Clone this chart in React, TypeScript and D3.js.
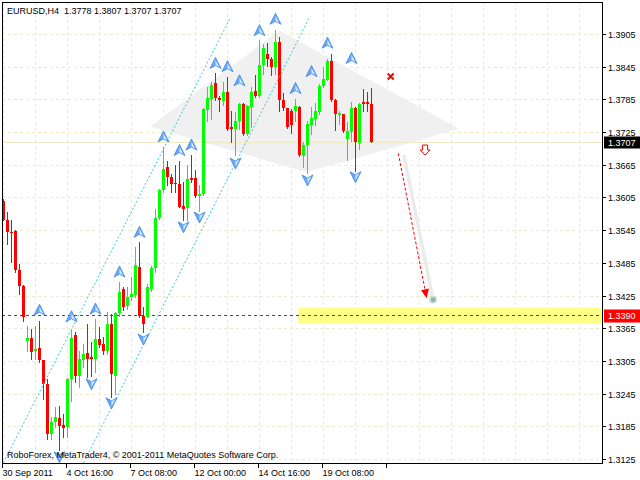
import React from 'react';
import * as d3 from 'd3';

const symbol = 'EURUSD,H4';
const copyright = 'RoboForex, MetaTrader4, © 2001-2011 MetaQuotes Software Corp.';

const opens = [
  1.3600, 1.3565, 1.3542, 1.3545, 1.3473, 1.3444, 1.3342, 1.3348, 1.3325, 1.3329,
  1.3307, 1.3263, 1.3172, 1.3194, 1.3201, 1.3189, 1.3185, 1.3273, 1.3353, 1.3279,
  1.3307, 1.3321, 1.3313, 1.3310, 1.3347, 1.3337, 1.3325, 1.3374, 1.3279, 1.3393,
  1.3438, 1.3406, 1.3423, 1.3426, 1.3479, 1.3389, 1.3387, 1.3438, 1.3477, 1.3569,
  1.3619, 1.3662, 1.3643, 1.3632, 1.3631, 1.3591, 1.3587, 1.3641, 1.3641, 1.3608,
  1.3613, 1.3767, 1.3787, 1.3816, 1.3789, 1.3783, 1.3800, 1.3736, 1.3732, 1.3746,
  1.3778, 1.3723, 1.3772, 1.3802, 1.3793, 1.3849, 1.3870, 1.3860, 1.3845, 1.3891,
  1.3784, 1.3770, 1.3765, 1.3765, 1.3772, 1.3682, 1.3703, 1.3738, 1.3750, 1.3763,
  1.3811, 1.3822, 1.3857, 1.3785, 1.3758, 1.3759, 1.3713, 1.3726, 1.3770, 1.3706,
  1.3781, 1.3781, 1.3778,
];
const highs = [
  1.3604, 1.3579, 1.3564, 1.3547, 1.3484, 1.3446, 1.3370, 1.3364, 1.3370, 1.3380,
  1.3308, 1.3272, 1.3203, 1.3221, 1.3224, 1.3209, 1.3275, 1.3362, 1.3359, 1.3325,
  1.3337, 1.3374, 1.3340, 1.3383, 1.3368, 1.3350, 1.3396, 1.3392, 1.3396, 1.3451,
  1.3441, 1.3441, 1.3460, 1.3515, 1.3524, 1.3405, 1.3447, 1.3481, 1.3585, 1.3622,
  1.3698, 1.3672, 1.3649, 1.3665, 1.3672, 1.3634, 1.3665, 1.3684, 1.3657, 1.3628,
  1.3771, 1.3808, 1.3818, 1.3834, 1.3793, 1.3818, 1.3827, 1.3765, 1.3762, 1.3779,
  1.3779, 1.3775, 1.3808, 1.3830, 1.3894, 1.3888, 1.3890, 1.3863, 1.3914, 1.3900,
  1.3797, 1.3771, 1.3768, 1.3787, 1.3773, 1.3707, 1.3747, 1.3772, 1.3779, 1.3814,
  1.3845, 1.3860, 1.3869, 1.3787, 1.3765, 1.3760, 1.3744, 1.3781, 1.3772, 1.3779,
  1.3805, 1.3799, 1.3807,
];
const lows = [
  1.3564, 1.3521, 1.3487, 1.3469, 1.3429, 1.3380, 1.3325, 1.3310, 1.3310, 1.3304,
  1.3236, 1.3163, 1.3163, 1.3184, 1.3142, 1.3166, 1.3166, 1.3233, 1.3267, 1.3258,
  1.3295, 1.3276, 1.3279, 1.3285, 1.3332, 1.3319, 1.3319, 1.3239, 1.3246, 1.3389,
  1.3400, 1.3402, 1.3417, 1.3423, 1.3386, 1.3359, 1.3386, 1.3435, 1.3470, 1.3567,
  1.3616, 1.3628, 1.3616, 1.3616, 1.3588, 1.3564, 1.3565, 1.3634, 1.3606, 1.3581,
  1.3610, 1.3747, 1.3750, 1.3784, 1.3765, 1.3775, 1.3730, 1.3707, 1.3683, 1.3732,
  1.3721, 1.3721, 1.3735, 1.3790, 1.3790, 1.3833, 1.3848, 1.3830, 1.3833, 1.3765,
  1.3767, 1.3734, 1.3724, 1.3746, 1.3682, 1.3662, 1.3651, 1.3723, 1.3738, 1.3759,
  1.3808, 1.3821, 1.3783, 1.3729, 1.3741, 1.3726, 1.3674, 1.3710, 1.3654, 1.3695,
  1.3765, 1.3765, 1.3707,
];
const closes = [
  1.3565, 1.3542, 1.3541, 1.3472, 1.3444, 1.3386, 1.3348, 1.3323, 1.3328, 1.3307,
  1.3264, 1.3172, 1.3194, 1.3203, 1.3186, 1.3183, 1.3273, 1.3348, 1.3279, 1.3310,
  1.3319, 1.3309, 1.3309, 1.3347, 1.3336, 1.3325, 1.3374, 1.3282, 1.3394, 1.3433,
  1.3405, 1.3423, 1.3428, 1.3482, 1.3389, 1.3374, 1.3441, 1.3477, 1.3569, 1.3619,
  1.3658, 1.3643, 1.3631, 1.3631, 1.3589, 1.3585, 1.3639, 1.3638, 1.3608, 1.3613,
  1.3769, 1.3789, 1.3813, 1.3789, 1.3784, 1.3800, 1.3732, 1.3731, 1.3747, 1.3778,
  1.3723, 1.3773, 1.3800, 1.3793, 1.3849, 1.3881, 1.3860, 1.3845, 1.3892, 1.3784,
  1.3770, 1.3735, 1.3738, 1.3773, 1.3683, 1.3703, 1.3740, 1.3752, 1.3764, 1.3811,
  1.3824, 1.3857, 1.3784, 1.3759, 1.3761, 1.3728, 1.3727, 1.3770, 1.3707, 1.3778,
  1.3778, 1.3778, 1.3707,
];

const priceTicks = [1.3905, 1.3845, 1.3785, 1.3725, 1.3665, 1.3605, 1.3545, 1.3485, 1.3425, 1.3365, 1.3305, 1.3245, 1.3185, 1.3125];
const timeLabels = ['30 Sep 2011', '4 Oct 16:00', '7 Oct 08:00', '12 Oct 00:00', '14 Oct 16:00', '19 Oct 08:00'];
const timeLabelBars = [0, 16, 32, 48, 64, 80];

const upFractalBars = [9, 17, 23, 29, 34, 40, 44, 47, 53, 56, 59, 64, 68, 73, 77, 81, 87];
const upFractalPrices = [1.3399, 1.3387, 1.3401, 1.3469, 1.3542, 1.3717, 1.3692, 1.3702, 1.3852, 1.3846, 1.3820, 1.3912, 1.3933, 1.3806, 1.3837, 1.3889, 1.3861];
const downFractalBars = [14, 22, 27, 35, 45, 49, 58, 76, 88];
const downFractalPrices = [1.3130, 1.3264, 1.3229, 1.3346, 1.3552, 1.3570, 1.3669, 1.3638, 1.3644];

const channelUpperBars = [0, 56.8];
const channelUpperPrices = [1.3119, 1.3937];
const channelLowerBars = [20.0, 76.6];
const channelLowerPrices = [1.3119, 1.3938];

const kiteBars = [36.6, 69.1, 113.9, 75.8];
const kitePrices = [1.3736, 1.3912, 1.3732, 1.3652];

const targetLevel = 1.3390;
const targetZonePrices = [1.3404, 1.3374];
const targetZoneStartBar = 73.7;
const bidPrice = 1.3707;

const forecastBars = [98.7, 105.8];
const forecastPrices = [1.3687, 1.3421];
const shadowBars = [100.1, 107.4];
const shadowPrices = [1.3684, 1.3418];
const stopMarkBar = 96.8;
const stopMarkPrice = 1.3828;
const sellArrowBar = 105.4;
const sellArrowPrice = 1.3693;

const W = 640;
const H = 480;
const L = 2;
const R = 602;
const T = 2;
const B = 463;
const FONT = '"Liberation Sans", Arial, sans-serif';

export default function App() {
  const x = d3.scaleLinear().domain([0, 150]).range([3.5, 603.5]);
  const y = d3.scaleLinear().domain([1.3125, 1.3905]).range([459.5, 34.5]);
  const crisp = (v: number) => Math.floor(v) + 0.5;
  const fmt = d3.format('.4f');
  const last = closes.length - 1;
  const title = `${symbol}  ${fmt(opens[last])} ${fmt(highs[last])} ${fmt(lows[last])} ${fmt(closes[last])}`;

  const gridBars = d3.range(0, 150, 8).filter((i) => x(i) < R);

  const line = d3.line<[number, number]>().x((d) => x(d[0])).y((d) => y(d[1]));

  const kite = line(kiteBars.map((b, i) => [b, kitePrices[i]] as [number, number])) + 'Z';

  const upArrow = (cx: number, cy: number) => (
    <g>
      <path d={`M${cx},${cy - 6}L${cx + 5.5},${cy + 5}L${cx},${cy + 2}L${cx - 5.5},${cy + 5}Z`} fill="#6aa9f2" stroke="#3a86e6" strokeWidth={0.8} />
      <path d={`M${cx},${cy - 3.5}L${cx + 3.8},${cy + 3.5}L${cx},${cy + 1.5}Z`} fill="#d6e8fc" />
    </g>
  );
  const downArrow = (cx: number, cy: number) => (
    <g>
      <path d={`M${cx},${cy + 6}L${cx + 5.5},${cy - 5}L${cx},${cy - 2}L${cx - 5.5},${cy - 5}Z`} fill="#6aa9f2" stroke="#3a86e6" strokeWidth={0.8} />
      <path d={`M${cx},${cy + 3.5}L${cx + 3.8},${cy - 3.5}L${cx},${cy - 1.5}Z`} fill="#d6e8fc" />
    </g>
  );

  const fx0 = x(forecastBars[0]);
  const fy0 = y(forecastPrices[0]);
  const fx1 = x(forecastBars[1]);
  const fy1 = y(forecastPrices[1]);
  const ang = Math.atan2(fy1 - fy0, fx1 - fx0);
  const headLen = 9;
  const headHalf = 4;
  const bx = fx1 - headLen * Math.cos(ang);
  const by = fy1 - headLen * Math.sin(ang);
  const px = -Math.sin(ang) * headHalf;
  const py = Math.cos(ang) * headHalf;

  const sx = x(stopMarkBar);
  const sy = y(stopMarkPrice);
  const ax = x(sellArrowBar);
  const ay = y(sellArrowPrice);

  const bidY = crisp(y(bidPrice));
  const tgtY = crisp(y(targetLevel));

  return (
    <svg width={W} height={H} style={{ position: 'fixed', left: 0, top: 0, background: '#fff' }} fontFamily={FONT}>
      <rect x={0} y={0} width={W} height={H} fill="#fff" />
      <defs>
        <clipPath id="plot">
          <rect x={L} y={T} width={R - L} height={B - T} />
        </clipPath>
      </defs>
      <g clipPath="url(#plot)">
        {priceTicks.map((t) => (
          <line key={'hg' + t} x1={L} x2={R} y1={crisp(y(t))} y2={crisp(y(t))} stroke="#ecebcf" strokeDasharray="3,3" />
        ))}
        {gridBars.map((i) => (
          <line key={'vg' + i} x1={x(i)} x2={x(i)} y1={T} y2={B} stroke="#ecebcf" strokeDasharray="3,3" />
        ))}
        <path d={kite} fill="#f0f0f0" />
        <rect
          x={x(targetZoneStartBar)}
          y={y(targetZonePrices[0])}
          width={R - x(targetZoneStartBar)}
          height={y(targetZonePrices[1]) - y(targetZonePrices[0])}
          fill="#ffff88"
        />
        <line x1={L} x2={R} y1={bidY} y2={bidY} stroke="#eeeac4" />
        <line x1={L} x2={R} y1={tgtY} y2={tgtY} stroke="#ff0000" strokeDasharray="3,3" />
        {opens.map((o, i) => {
          const c = closes[i];
          const up = c >= o;
          const col = up ? '#00ff00' : '#ff0000';
          const top = Math.round(y(Math.max(o, c)));
          const bot = Math.round(y(Math.min(o, c)));
          return (
            <g key={'c' + i}>
              <line x1={x(i)} x2={x(i)} y1={Math.round(y(highs[i]))} y2={Math.round(y(lows[i])) + 1} stroke={col} />
              <rect x={x(i) - 1.5} y={top} width={3} height={Math.max(1, bot - top)} fill={col} />
            </g>
          );
        })}
        <path d={line([[channelUpperBars[0], channelUpperPrices[0]], [channelUpperBars[1], channelUpperPrices[1]]]) || ''} stroke="#3cc8d4" strokeDasharray="2,2" fill="none" />
        <path d={line([[channelLowerBars[0], channelLowerPrices[0]], [channelLowerBars[1], channelLowerPrices[1]]]) || ''} stroke="#3cc8d4" strokeDasharray="2,2" fill="none" />
        {upFractalBars.map((b, i) => (
          <g key={'uf' + i}>{upArrow(x(b), y(upFractalPrices[i]))}</g>
        ))}
        {downFractalBars.map((b, i) => (
          <g key={'df' + i}>{downArrow(x(b), y(downFractalPrices[i]))}</g>
        ))}
        <path d={line([[shadowBars[0], shadowPrices[0]], [shadowBars[1], shadowPrices[1]]]) || ''} stroke="#ebebeb" strokeWidth={3.5} fill="none" />
        <circle cx={x(shadowBars[1])} cy={y(shadowPrices[1])} r={3} fill="#8fb39a" stroke="#c5d8e2" strokeWidth={1.5} />
        <line x1={fx0} y1={fy0} x2={bx} y2={by} stroke="#ff0000" strokeDasharray="3,2" />
        <path d={`M${fx1},${fy1}L${bx + px},${by + py}L${bx - px},${by - py}Z`} fill="#ff0000" />
        <g stroke="#ff0000" strokeWidth={2}>
          <line x1={sx - 3} y1={sy - 3} x2={sx + 3} y2={sy + 3} />
          <line x1={sx - 3} y1={sy + 3} x2={sx + 3} y2={sy - 3} />
        </g>
        <path
          d={`M${ax - 2.5},${ay - 5}H${ax + 2.5}V${ay}H${ax + 5}L${ax},${ay + 5}L${ax - 5},${ay}H${ax - 2.5}Z`}
          fill="#fff"
          stroke="#ff0000"
        />
      </g>
      <rect x={L + 0.5} y={T + 0.5} width={R - L} height={B - T} fill="none" stroke="#000" />
      {priceTicks.map((t) => (
        <g key={'pt' + t}>
          <line x1={R} x2={R + 4} y1={crisp(y(t))} y2={crisp(y(t))} stroke="#000" />
          <text x={608} y={y(t) + 3.5} fontSize={9} fill="#000">{fmt(t)}</text>
        </g>
      ))}
      <rect x={604} y={bidY - 6} width={36} height={12} fill="#000" />
      <text x={608} y={bidY + 3.5} fontSize={9} fill="#fff">{fmt(bidPrice)}</text>
      <rect x={604} y={tgtY - 6} width={36} height={13} fill="#ff0000" />
      <text x={608} y={tgtY + 3.5} fontSize={9} fill="#fff">{fmt(targetLevel)}</text>
      {timeLabelBars.map((b, i) => (
        <g key={'tl' + b}>
          <line x1={x(b) - 1} x2={x(b) - 1} y1={B} y2={B + 5} stroke="#000" />
          <text x={x(b) - 1} y={476} fontSize={9} fill="#000">{timeLabels[i]}</text>
        </g>
      ))}
      {[96].map((b) => (
        <line key={'et' + b} x1={x(b) - 1} x2={x(b) - 1} y1={B} y2={B + 5} stroke="#000" />
      ))}
      <text x={7} y={14} fontSize={9} fill="#000" style={{ whiteSpace: 'pre' }}>{title}</text>
      <text x={7} y={458} fontSize={9} fill="#000">{copyright}</text>
    </svg>
  );
}
